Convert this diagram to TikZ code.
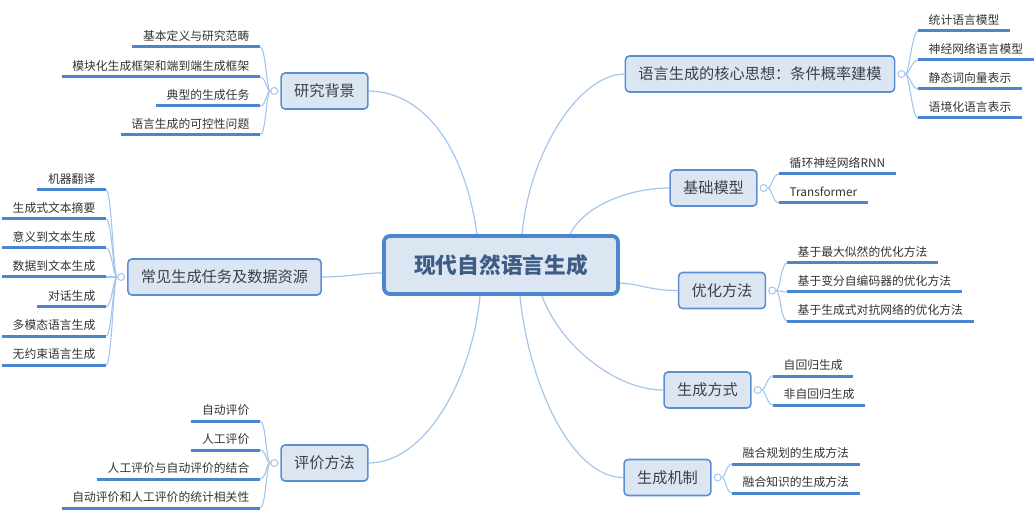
\documentclass[tikz,border=0pt]{standalone}
\usepackage{fontspec}
\setmainfont{Noto Sans CJK SC}
\usetikzlibrary{backgrounds}
\definecolor{boxfill}{HTML}{DCE6F2}
\definecolor{boxdraw}{HTML}{5B8FD4}
\definecolor{rootdraw}{HTML}{4C87CC}
\definecolor{concol}{HTML}{A4C6EC}
\definecolor{ulcol}{HTML}{4A86CF}
\definecolor{roottext}{HTML}{3D5C86}
\definecolor{topictext}{HTML}{3C4048}
\definecolor{txt}{HTML}{333333}
\tikzset{
  rootbox/.style={draw=rootdraw, line width=3.8pt, fill=boxfill, rounded corners=6pt,
    minimum width=234pt, minimum height=58pt, inner sep=0pt,
    font=\fontsize{21.7}{26}\selectfont\bfseries, text=roottext},
  topic/.style={draw=boxdraw, line width=1.6pt, fill=boxfill, rounded corners=4pt,
    minimum height=36pt, inner xsep=13pt, inner ysep=0pt,
    font=\fontsize{15.2}{18}\selectfont, text=topictext},
  knob/.style={circle, draw=concol, fill=white, line width=1pt, minimum size=7pt, inner sep=0pt},
  underl/.style={draw=ulcol, line width=3pt},
  leaf/.style={font=\fontsize{11.8}{14}\selectfont, text=txt, text height=10.4pt, text depth=1.4pt,
    inner ysep=5pt, inner xsep=10.5pt,
    append after command={(\tikzlastnode.south west) edge[underl] (\tikzlastnode.south east)}},
  leafcon/.style={draw=concol, line width=1.1pt},
  maincon/.style={draw=concol, line width=1.2pt},
}
\begin{document}
\begin{tikzpicture}[x=1pt, y=-1pt]
\useasboundingbox (0,0) rectangle (1035,526);

% root
\node[rootbox] (root) at (501,265) {现代自然语言生成};

% topics
\node[topic] (b1) at (324.5,91) {研究背景};
\node[topic] (b2) at (224.5,277) {常见生成任务及数据资源};
\node[topic] (b3) at (324.5,463) {评价方法};
\node[topic] (b5) at (760,74) {语言生成的核心思想：条件概率建模};
\node[topic] (b6) at (713.5,188) {基础模型};
\node[topic] (b7) at (722,290.5) {优化方法};
\node[topic] (b8) at (707.5,390) {生成方式};
\node[topic] (b9) at (667.5,477.5) {生成机制};

% knobs
\node[knob] (k1) at ([xshift=-6pt]b1.west) {};
\node[knob] (k2) at ([xshift=-6pt]b2.west) {};
\node[knob] (k3) at ([xshift=-6pt]b3.west) {};
\node[knob] (k5) at ([xshift=6pt]b5.east) {};
\node[knob] (k6) at ([xshift=6pt]b6.east) {};
\node[knob] (k7) at ([xshift=6pt]b7.east) {};
\node[knob] (k8) at ([xshift=6pt]b8.east) {};
\node[knob] (k9) at ([xshift=6pt]b9.east) {};

% left leaves
\node[leaf, anchor=south east] (a1) at (260,47) {基本定义与研究范畴};
\node[leaf, anchor=south east] (a2) at (260,77) {模块化生成框架和端到端生成框架};
\node[leaf, anchor=south east] (a3) at (260,106) {典型的生成任务};
\node[leaf, anchor=south east] (a4) at (260,135) {语言生成的可控性问题};

\node[leaf, anchor=south east] (t1) at (106,190) {机器翻译};
\node[leaf, anchor=south east] (t2) at (106,219) {生成式文本摘要};
\node[leaf, anchor=south east] (t3) at (106,248) {意义到文本生成};
\node[leaf, anchor=south east] (t4) at (106,277) {数据到文本生成};
\node[leaf, anchor=south east] (t5) at (106,307) {对话生成};
\node[leaf, anchor=south east] (t6) at (106,336) {多模态语言生成};
\node[leaf, anchor=south east] (t7) at (106,365) {无约束语言生成};

\node[leaf, anchor=south east] (e1) at (260,421) {自动评价};
\node[leaf, anchor=south east] (e2) at (260,450) {人工评价};
\node[leaf, anchor=south east] (e3) at (260,479) {人工评价与自动评价的结合};
\node[leaf, anchor=south east] (e4) at (260,508) {自动评价和人工评价的统计相关性};

% right leaves
\node[leaf, anchor=south west] (c1) at (918,31) {统计语言模型};
\node[leaf, anchor=south west] (c2) at (918,60) {神经网络语言模型};
\node[leaf, anchor=south west] (c3) at (918,89) {静态词向量表示};
\node[leaf, anchor=south west] (c4) at (918,118) {语境化语言表示};

\node[leaf, anchor=south west] (m1) at (779,174) {循环神经网络RNN};
\node[leaf, anchor=south west] (m2) at (779,203) {Transformer};

\node[leaf, anchor=south west] (o1) at (787,263) {基于最大似然的优化方法};
\node[leaf, anchor=south west] (o2) at (787,292) {基于变分自编码器的优化方法};
\node[leaf, anchor=south west] (o3) at (787,321) {基于生成式对抗网络的优化方法};

\node[leaf, anchor=south west] (g1) at (773,376) {自回归生成};
\node[leaf, anchor=south west] (g2) at (773,405) {非自回归生成};

\node[leaf, anchor=south west] (j1) at (732,464) {融合规划的生成方法};
\node[leaf, anchor=south west] (j2) at (732,493) {融合知识的生成方法};

\begin{scope}[on background layer]
% main connectors
\draw[maincon] (b1.east) .. controls (426,92) and (465,150) .. ([xshift=-24pt]root.north);
\draw[maincon] (b5.west) .. controls (580,74) and (530,150) .. ([xshift=21pt]root.north);
\draw[maincon] (b6.west) .. controls (630,188) and (585,205) .. ([xshift=69pt]root.north);
\draw[maincon] (b2.east) .. controls (350,277) and (360,273) .. ([yshift=-8pt]root.west);
\draw[maincon] (b7.west) .. controls (650,290.5) and (640,284) .. ([yshift=-18pt]root.east);
\draw[maincon] (b8.west) .. controls (615,390) and (560,345) .. ([xshift=41pt]root.south);
\draw[maincon] (b9.west) .. controls (570,477.5) and (528,380) .. ([xshift=19pt]root.south);
\draw[maincon] (b3.east) .. controls (425,463) and (472,380) .. ([xshift=-21pt]root.south);

% leaf connectors, left
\foreach \n in {a1,a2,a3,a4}
  \draw[leafcon] (k1.west) .. controls +(-4,0) and +(6,0) .. (\n.south east);
\foreach \n in {t1,t2,t3,t4,t5,t6,t7}
  \draw[leafcon] (k2.west) .. controls +(-4,0) and +(6,0) .. (\n.south east);
\foreach \n in {e1,e2,e3,e4}
  \draw[leafcon] (k3.west) .. controls +(-4,0) and +(6,0) .. (\n.south east);
% leaf connectors, right
\foreach \n in {c1,c2,c3,c4}
  \draw[leafcon] (k5.east) .. controls +(4,0) and +(-6,0) .. (\n.south west);
\foreach \n in {m1,m2}
  \draw[leafcon] (k6.east) .. controls +(4,0) and +(-6,0) .. (\n.south west);
\foreach \n in {o1,o2,o3}
  \draw[leafcon] (k7.east) .. controls +(4,0) and +(-6,0) .. (\n.south west);
\foreach \n in {g1,g2}
  \draw[leafcon] (k8.east) .. controls +(4,0) and +(-6,0) .. (\n.south west);
\foreach \n in {j1,j2}
  \draw[leafcon] (k9.east) .. controls +(4,0) and +(-6,0) .. (\n.south west);
\end{scope}
\end{tikzpicture}
\end{document}
